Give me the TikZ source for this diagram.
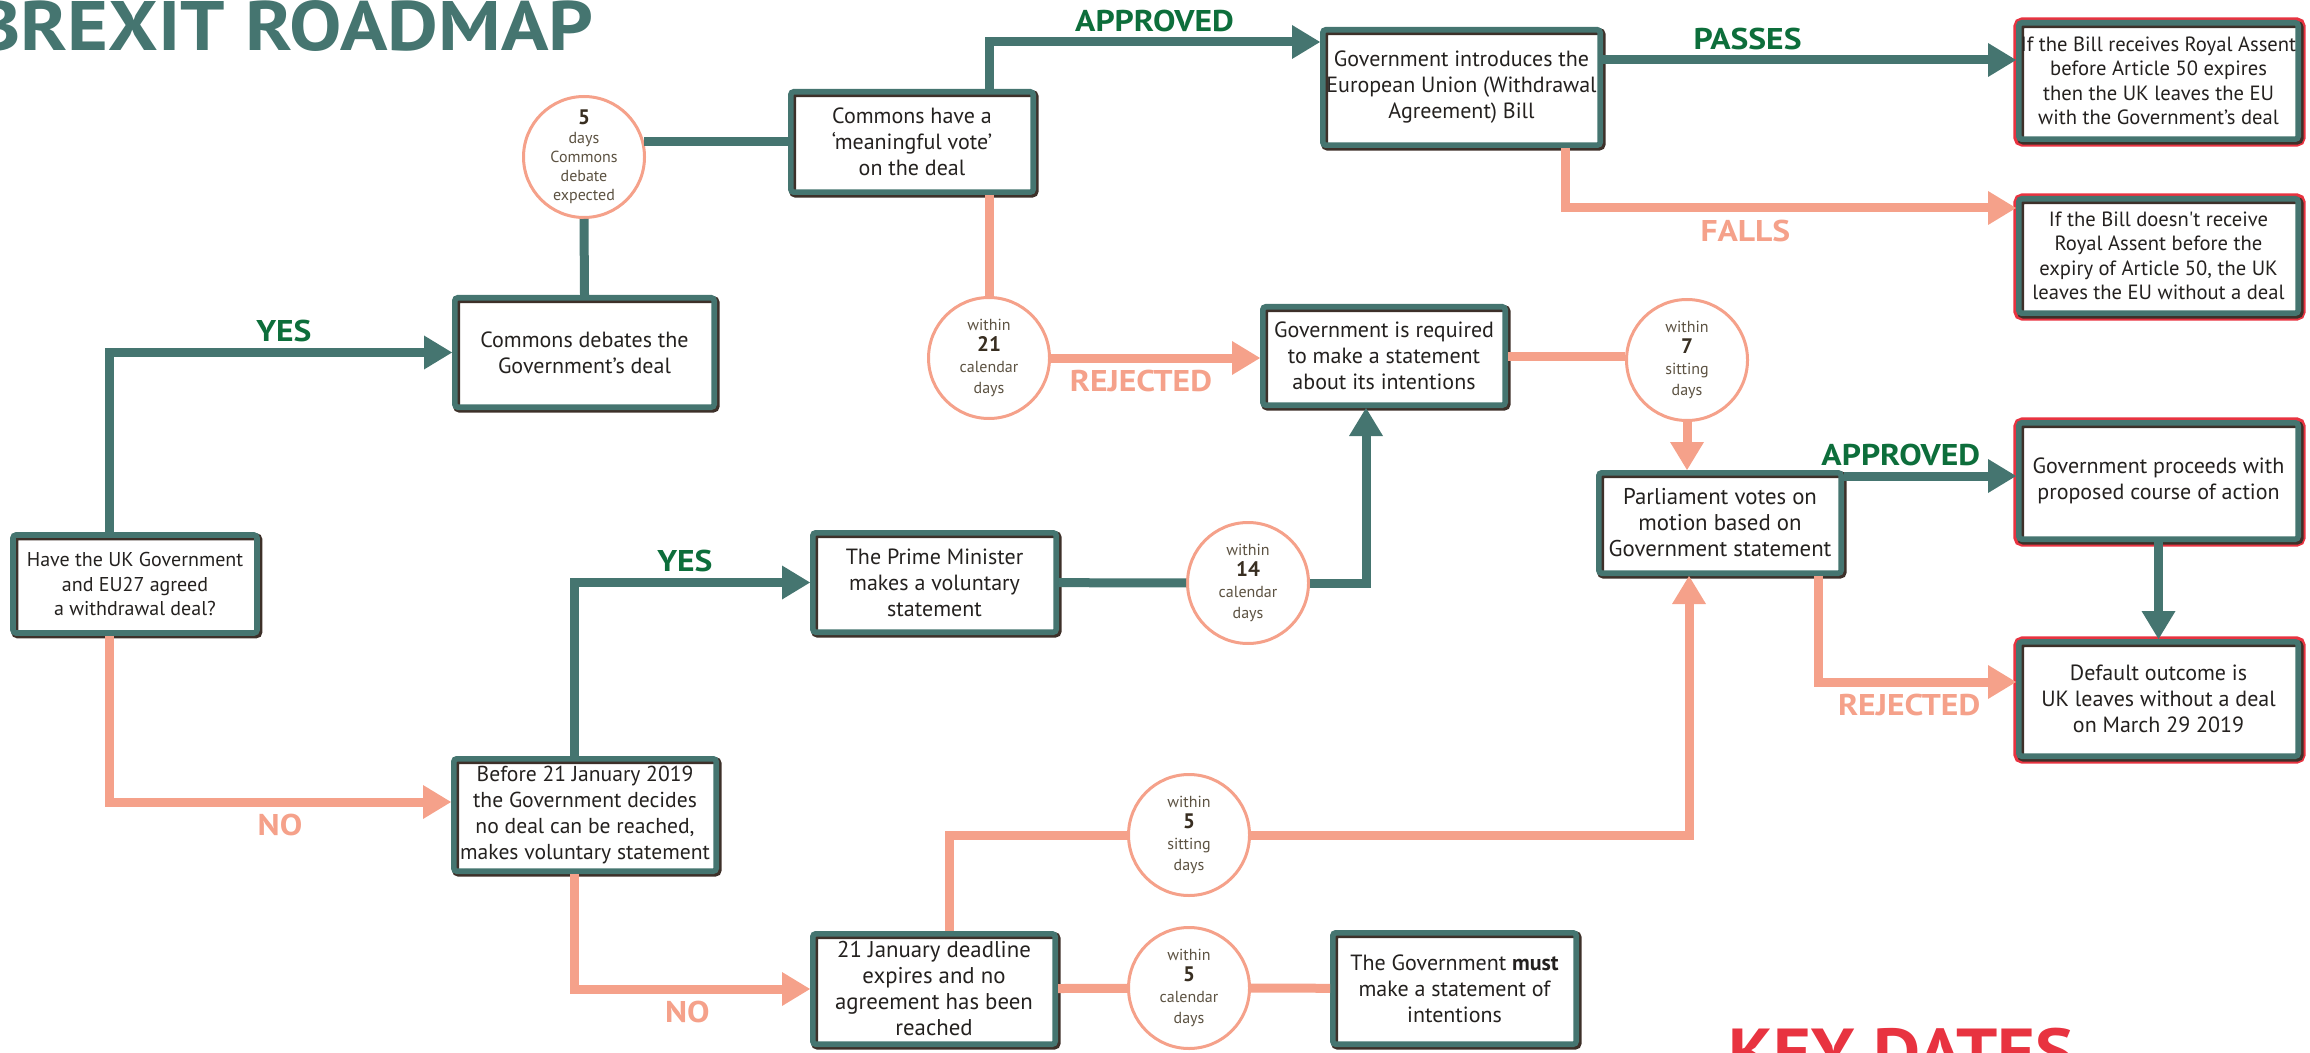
\documentclass[tikz,border=0pt]{standalone}
\usepackage{fontspec}
\usepackage{tikz}
\usetikzlibrary{arrows.meta}
\setmainfont{PT Sans}[Ligatures=TeXOff]
\newfontfamily\headfont{PT Sans}[FakeStretch=1.12]
\definecolor{mteal}{rgb}{0.27, 0.46, 0.44}
\definecolor{msalmon}{rgb}{0.96, 0.63, 0.54}
\definecolor{mgreen}{rgb}{0.05, 0.43, 0.23}
\definecolor{mred}{rgb}{0.91, 0.2, 0.25}
\definecolor{mshadow}{rgb}{0.24, 0.19, 0.16}
\definecolor{mtext}{rgb}{0.14, 0.13, 0.12}
\definecolor{mdays}{rgb}{0.36, 0.32, 0.26}
\definecolor{mnum}{rgb}{0.22, 0.18, 0.13}
\newcommand{\daynum}[1]{{\color{mnum}\bfseries\fontsize{10.5}{10.5}\selectfont #1}}
\tikzset{box/.style = {rectangle, rounded corners=1.5pt, align=center, inner sep=1pt, text=mtext,
                       font=\fontsize{11}{13}\selectfont,
                       preaction={fill=white},
                       preaction={draw=mshadow, line width=3.6pt,
                                  transform canvas={shift={(0.9pt, -0.9pt)}}},
                       draw=mteal, line width=2.8pt}}
\tikzset{outbox/.style = {preaction={draw=mred, line width=6.4pt,
                                     transform canvas={shift={(0.5pt, -0.5pt)}}},
                          box, minimum width=139.7pt}}
\tikzset{days/.style = {circle, draw=msalmon, line width=1.5pt, fill=white, minimum size=60.5pt,
                        inner sep=0, align=center, text=mdays, font=\fontsize{8}{10.5}\selectfont}}
\tikzset{tline/.style = {draw=mteal, line width=4.5pt}}
\tikzset{sline/.style = {draw=msalmon, line width=4.5pt}}
\tikzset{tarrow/.style = {tline, -{Triangle[length=14pt, width=17pt, line width=0pt]}}}
\tikzset{sarrow/.style = {sline, -{Triangle[length=14pt, width=17pt, line width=0pt]}}}
\tikzset{oklabel/.style = {text=mgreen, inner sep=1pt, font=\headfont\bfseries\fontsize{15}{15}\selectfont}}
\tikzset{nolabel/.style = {oklabel, text=msalmon}}

\begin{document}
\begin{tikzpicture}[x=0.5pt, y=-0.5pt]
  \useasboundingbox (0, 0) rectangle (2310, 1053);
  \clip (0, 0) rectangle (2310, 1053);

  \node [anchor=base west, inner sep=0, text=mteal, font=\headfont\bfseries\fontsize{35}{35}\selectfont] (title) at (-26, 51) {BREXIT ROADMAP};
  \node [anchor=north west, inner sep=0, text=mred, font=\headfont\bfseries\fontsize{32.5}{32.5}\selectfont] (keydates) at (1728, 1028) {KEY DATES};

  % boxes
  \node [box, minimum width=122pt, minimum height=49pt, font=\fontsize{10}{12.2}\selectfont] (deal) at (135, 584) {Have the UK Government\\ and EU27 agreed\\ a withdrawal deal?};
  \node [box, minimum width=129.7pt, minimum height=54.7pt] (debate) at (584.5, 352.5) {Commons debates the\\ Government’s deal};
  \node [box, minimum width=121.2pt, minimum height=50.2pt] (vote) at (912, 142) {Commons have a\\ ‘meaningful vote’\\ on the deal};
  \node [box, minimum width=138.7pt, minimum height=57.7pt] (billintro) at (1461.5, 87.5) {Government introduces the\\ European Union (Withdrawal\\ Agreement) Bill};
  \node [outbox, minimum height=58.2pt, font=\fontsize{10.3}{12.2}\selectfont] (assent) at (2158.5, 81) {If the Bill receives Royal Assent\\ before Article 50 expires\\ then the UK leaves the EU\\ with the Government’s deal};
  \node [outbox, minimum height=57.2pt, font=\fontsize{10.3}{12.2}\selectfont] (noassent) at (2158.5, 256) {If the Bill doesn't receive\\ Royal Assent before the\\ expiry of Article 50, the UK\\ leaves the EU without a deal};
  \node [box, minimum width=121.2pt, minimum height=49.2pt] (required) at (1384, 356) {Government is required\\ to make a statement\\ about its intentions};
  \node [box, minimum width=121.2pt, minimum height=50.2pt, font=\fontsize{11.4}{13}\selectfont] (motion) at (1720, 523) {Parliament votes on\\ motion based on\\ Government statement};
  \node [outbox, minimum height=58.2pt, font=\fontsize{11}{13.3}\selectfont] (proceed) at (2158.5, 481) {Government proceeds with\\ proposed course of action};
  \node [outbox, minimum height=57.2pt] (nodeal) at (2158.5, 699) {Default outcome is\\ UK leaves without a deal\\ on March 29 2019};
  \node [box, minimum width=121.7pt, minimum height=49.7pt] (primemin) at (934.5, 582.5) {The Prime Minister\\ makes a voluntary\\ statement};
  \node [box, minimum width=131.2pt, minimum height=56.2pt, font=\fontsize{10.8}{13}\selectfont] (before) at (585, 815) {Before 21 January 2019\\ the Government decides\\ no deal can be reached,\\ makes voluntary statement};
  \node [box, minimum width=121.2pt, minimum height=55.2pt, font=\fontsize{11.4}{13}\selectfont] (deadline) at (934, 989) {21 January deadline\\ expires and no\\ agreement has been\\ reached};
  \node [box, minimum width=121.7pt, minimum height=55.7pt] (must) at (1454.5, 988.5) {The Government \textbf{must}\\ make a statement of\\ intentions};

  % day counts
  \node [days, font=\fontsize{8}{9.5}\selectfont] (d5) at (584, 157) {\daynum{5}\\ days\\ Commons\\ debate\\ expected};
  \node [days] (d21) at (989, 358) {within\\ \daynum{21}\\ calendar\\ days};
  \node [days] (d7) at (1687, 360) {within\\ \daynum{7}\\ sitting\\ days};
  \node [days] (d14) at (1248, 583) {within\\ \daynum{14}\\ calendar\\ days};
  \node [days] (s5) at (1189, 835) {within\\ \daynum{5}\\ sitting\\ days};
  \node [days] (c5) at (1189, 988) {within\\ \daynum{5}\\ calendar\\ days};

  % deal agreed
  \coordinate (yesturn) at (109, 351);
  \draw [tarrow] (deal.north -| yesturn) |- (debate.west) node [oklabel, above=2pt, pos=0.755] (yeslbl) {YES};

  \draw [tline] (debate.north) -- (d5.south);
  \draw [tline] (d5.14) -- (d5.14 -| vote.west);

  \coordinate (apprturn) at (989, 42);
  \draw [tarrow] (vote.north -| apprturn) |- (billintro.west |- apprturn) node [oklabel, above=2pt, pos=0.75] (apprlbl) {APPROVED};

  \coordinate (passturn) at (1603, 60);
  \draw [tarrow] (billintro.east |- passturn) -- (assent.west |- passturn) node [oklabel, above=2pt, pos=0.35] (passlbl) {PASSES};

  \coordinate (fallturn) at (1565, 208);
  \draw [sarrow] (billintro.south -| fallturn) |- (noassent.west |- fallturn) node [nolabel, below=3pt, pos=0.7] (falllbl) {FALLS};

  \draw [sline] (vote.south -| d21) -- (d21.north);
  \draw [sarrow] (d21.east) -- (d21.east -| required.west) node [nolabel, below=3pt, pos=0.43] (rejlbl) {REJECTED};

  \draw [sline] (required.east) -- (required.east -| d7.west);
  \draw [sarrow] (d7.south) -- (d7.south |- motion.north);

  \coordinate (appr2turn) at (1844, 476);
  \draw [tarrow] (motion.east |- appr2turn) -- (proceed.west |- appr2turn) node [oklabel, above=2pt, pos=0.33] (appr2lbl) {APPROVED};

  \draw [tarrow] (proceed) -- (nodeal);

  \coordinate (rej2turn) at (1818, 682);
  \draw [sarrow] (motion.south -| rej2turn) |- (nodeal.west |- rej2turn) node [nolabel, below=3pt, pos=0.73] (rej2lbl) {REJECTED};

  % no deal
  \coordinate (noturn) at (109, 802);
  \draw [sarrow] (deal.south -| noturn) |- (before.west |- noturn) node [nolabel, below=3pt, pos=0.75] (nolbl) {NO};

  \coordinate (yes2turn) at (574, 582);
  \draw [tarrow] (before.north -| yes2turn) |- (primemin.west) node [oklabel, above=2pt, pos=0.735] (yes2lbl) {YES};

  \draw [tline] (primemin) -- (d14);
  \coordinate (upturn) at (1366, 583);
  \draw [tarrow] (d14.east) -| (required.south -| upturn);

  \coordinate (no2turn) at (574, 988);
  \draw [sarrow] (before.south -| no2turn) |- (deadline.west) node [nolabel, below=3pt, pos=0.74] (no2lbl) {NO};

  \coordinate (sitturn) at (949, 835);
  \draw [sline] (deadline.north -| sitturn) |- (s5.west);
  \coordinate (situp) at (1689, 835);
  \draw [sarrow] (s5.east) -| (motion.south -| situp);

  \draw [sline] (deadline) -- (c5);
  \draw [sline] (c5) -- (must);
\end{tikzpicture}
\end{document}
